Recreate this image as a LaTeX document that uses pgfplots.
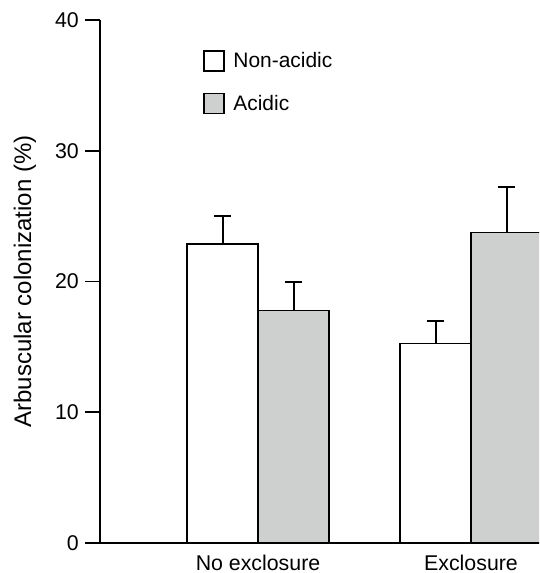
\documentclass[border=0pt]{standalone}
\usepackage{fontspec}
\setmainfont{Liberation Sans}
\usepackage{pgfplots}
\pgfplotsset{compat=1.18}
\definecolor{barg}{RGB}{206,208,207}
\pgfplotstableread{
x y e
1 22.85 2.18
2 15.24 1.72
}\nonacid
\pgfplotstableread{
x y e
1 17.77 2.17
2 23.76 3.47
}\acid
\begin{document}
\begin{tikzpicture}
\path[use as bounding box] (-75pt,-22.5pt) rectangle (329.25pt,407.25pt);
\begin{axis}[
  at={(0pt,0pt)}, anchor=south west,
  scale only axis, width=329.25pt, height=392.25pt,
  xmin=0.2582, xmax=2.3192, ymin=0, ymax=40,
  axis x line=bottom, axis y line=left,
  axis line style={line width=1.3pt, -},
  ytick={0,10,20,30,40},
  ytick style={line width=1.3pt, black},
  major tick length=11.25pt, tick align=outside,
  xtick={1,2}, xticklabels={No exclosure, Exclosure},
  xtick style={draw=none},
  /pgf/number format/assume math mode=true,
  tick label style={font=\fontsize{16}{19}\selectfont},
  yticklabel style={inner xsep=0pt, xshift=-4.5pt},
  xticklabel style={inner ysep=0pt, yshift=2.25pt, text depth=0pt},
  ylabel={Arbuscular colonization (\%)},
  ylabel style={font=\fontsize{18}{21}\selectfont, at={(axis description cs:-0.1708,0.5)}, anchor=center, rotate=0},
  ybar=0pt, bar width=53.25pt,
  legend style={at={(rel axis cs:0.2346,0.9426)}, anchor=north west, draw=none, fill=none,
    inner sep=0pt, row sep=15.75pt, column sep=6.5pt,
    nodes={inner sep=0pt, anchor=west}, font=\fontsize{15.7}{19}\selectfont},
  legend cell align=left,
]
\addplot[fill=white, draw=black, line width=1.1pt,
  legend image code/.code={\draw[fill=white, draw=black, line width=1.1pt] (0pt,-7.5pt) rectangle (15pt,7.5pt);},
  error bars/.cd, y dir=plus, y explicit,
  error bar style={line width=1.5pt, black},
  error mark options={rotate=90, mark size=6.4pt, line width=1.5pt, black}]
  table[x=x, y=y, y error=e] {\nonacid};
\addlegendentry{Non-acidic}
\addplot[fill=barg, draw=black, line width=1.1pt,
  legend image code/.code={\draw[fill=barg, draw=black, line width=1.1pt] (0pt,-7.5pt) rectangle (15pt,7.5pt);},
  error bars/.cd, y dir=plus, y explicit,
  error bar style={line width=1.5pt, black},
  error mark options={rotate=90, mark size=6.4pt, line width=1.5pt, black}]
  table[x=x, y=y, y error=e] {\acid};
\addlegendentry{Acidic}
\end{axis}
\end{tikzpicture}
\end{document}
